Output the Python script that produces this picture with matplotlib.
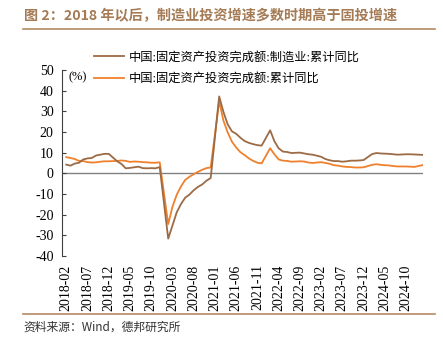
import numpy as np
import matplotlib.pyplot as plt
from matplotlib.lines import Line2D

# monthly axis 2018-02 .. 2025-02, January not published (nan)
months = []
for y in range(2018, 2026):
    for m in range(1, 13):
        if (y == 2018 and m < 2) or (y == 2025 and m > 2):
            continue
        months.append(f"{y}-{m:02d}")

nan = np.nan
fai_mfg = [
    4.3, 3.8, 4.8, 5.2, 6.8, 7.3, 7.5, 8.7, 9.1, 9.5, 9.5,
    nan, 5.9, 4.6, 2.5, 2.7, 3.0, 3.3, 2.6, 2.5, 2.6, 2.5, 3.1,
    nan, -31.5, -25.2, -18.8, -14.8, -11.7, -10.2, -8.1, -6.5, -5.3, -3.5, -2.2,
    nan, 37.3, 29.8, 23.8, 20.4, 19.2, 17.3, 15.7, 14.8, 14.2, 13.7, 13.5,
    nan, 20.9, 15.6, 12.2, 10.6, 10.4, 9.9, 10.0, 10.1, 9.7, 9.3, 9.1,
    nan, 8.1, 7.0, 6.4, 6.0, 6.0, 5.7, 5.9, 6.2, 6.2, 6.3, 6.5,
    nan, 9.4, 9.9, 9.7, 9.6, 9.5, 9.3, 9.1, 9.2, 9.3, 9.3, 9.2,
    nan, 9.0,
]
fai_total = [
    7.9, 7.5, 7.0, 6.1, 6.0, 5.5, 5.3, 5.4, 5.7, 5.9, 5.9,
    nan, 6.1, 6.3, 6.1, 5.6, 5.8, 5.7, 5.5, 5.4, 5.2, 5.2, 5.4,
    nan, -24.5, -16.1, -10.3, -6.3, -3.1, -1.6, -0.3, 0.8, 1.8, 2.6, 2.9,
    nan, 35.0, 25.6, 19.9, 15.4, 12.6, 10.3, 8.9, 7.3, 6.1, 5.2, 4.9,
    nan, 12.2, 9.3, 6.8, 6.2, 6.1, 5.7, 5.8, 5.9, 5.8, 5.3, 5.1,
    nan, 5.5, 5.1, 4.7, 4.0, 3.8, 3.4, 3.2, 3.1, 2.9, 2.9, 3.0,
    nan, 4.2, 4.5, 4.2, 4.0, 3.9, 3.6, 3.4, 3.4, 3.4, 3.3, 3.2,
    nan, 4.1,
]
label_mfg = "中国:固定资产投资完成额:制造业:累计同比"
label_total = "中国:固定资产投资完成额:累计同比"
yticks = list(range(-40, 51, 10))

brown = "#9c6b45"
orange = "#f0802c"
rule = "#b48a64"
serif_cjk = ["Liberation Serif", "Noto Sans CJK SC"]
plt.rcParams["font.family"] = ["Noto Sans CJK SC", "DejaVu Sans"]

fig = plt.figure(figsize=(4.43, 3.49), dpi=100)
ax = fig.add_axes([0.140, 0.266, 0.815, 0.533])

x = np.arange(len(months))
mfg = np.array(fai_mfg)
tot = np.array(fai_total)
ax.axhline(0, color="#808080", lw=1.0, zorder=1)
ax.plot(x[~np.isnan(mfg)], mfg[~np.isnan(mfg)], color=brown, lw=1.3, zorder=3)
ax.plot(x[~np.isnan(tot)], tot[~np.isnan(tot)], color=orange, lw=1.3, zorder=2)

ax.set_xlim(-1, 84)
ax.set_ylim(-40, 50)
ax.set_yticks(yticks)
ax.set_yticklabels([str(v) for v in yticks])
ax.set_xticks(x[::5])
ax.set_xticklabels(months[::5], rotation=90)
for t in ax.get_yticklabels() + ax.get_xticklabels():
    t.set_fontfamily("Liberation Serif")
    t.set_fontsize(10)
ax.tick_params(axis="x", length=0, pad=6)
ax.tick_params(axis="y", direction="in", length=3, color="#404040", pad=6)
for s in ["top", "right", "bottom"]:
    ax.spines[s].set_visible(False)
ax.spines["left"].set_color("#404040")
ax.spines["left"].set_linewidth(0.8)

handles = [Line2D([], [], color=brown, lw=1.3), Line2D([], [], color=orange, lw=1.3)]
leg = fig.legend(handles, [label_mfg, label_total], loc="upper left",
                 bbox_to_anchor=(0.212, 0.852), frameon=False,
                 prop={"family": serif_cjk, "size": 8.8}, handlelength=2.45,
                 handletextpad=0.4, labelspacing=0.75, borderpad=0, borderaxespad=0)
fig.text(0.155, 0.779, "(%)", family=serif_cjk, fontsize=9, va="center")

fig.text(0.054, 0.955, "图 2：2018 年以后，制造业投资增速多数时期高于固投增速",
         color="#a57b55", fontsize=10.2, fontweight="bold", va="center")
fig.add_artist(Line2D([0.052, 0.982], [0.917, 0.917], color=rule, lw=1.2))
fig.add_artist(Line2D([0.052, 0.982], [0.100, 0.100], color=rule, lw=1.2))
fig.text(0.054, 0.062, "资料来源：Wind，德邦研究所", color="#333333", fontsize=8.5, va="center")

fig.savefig("out.png", dpi=100)
